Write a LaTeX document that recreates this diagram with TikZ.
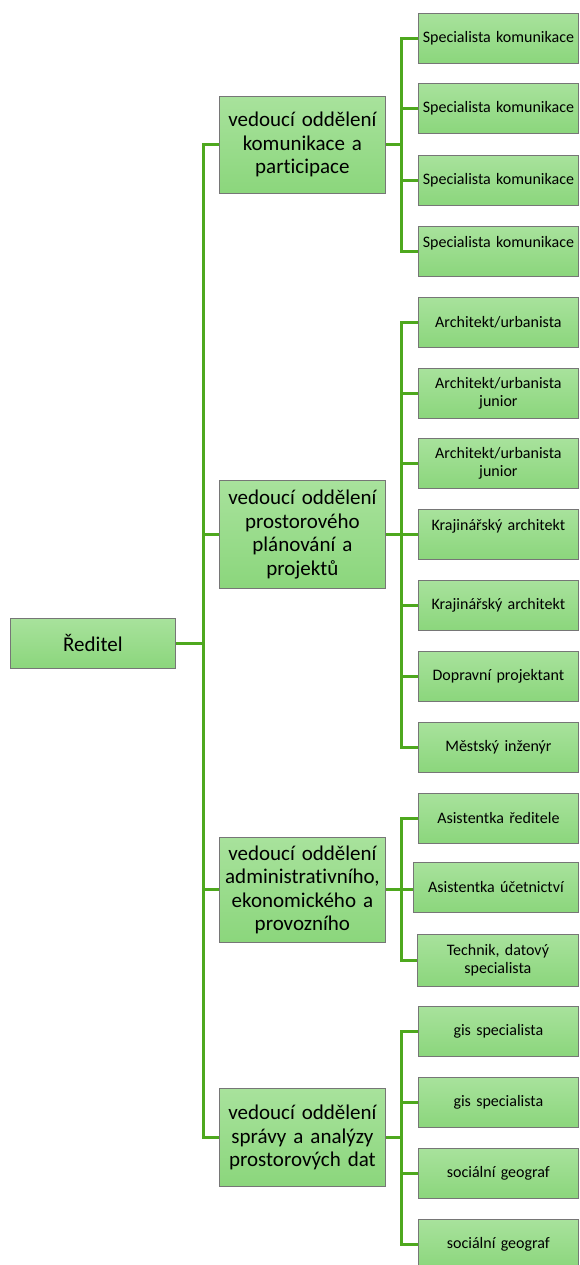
\documentclass[tikz,border=0pt]{standalone}
\usepackage{fontspec}
\setmainfont{Carlito}[Ligatures={NoCommon}]
\definecolor{lineg}{RGB}{78,168,30}
\definecolor{boxtop}{RGB}{168,226,156}
\definecolor{boxbot}{RGB}{139,214,124}
\definecolor{boxedge}{RGB}{118,118,118}
\begin{document}
\begin{tikzpicture}[x=1pt,y=-1pt,
  box/.style={draw=boxedge, line width=0.8pt, top color=boxtop, bottom color=boxbot,
    inner sep=2pt, align=center, anchor=north west},
  leaf/.style={box, minimum width=160pt, minimum height=50pt, text width=154pt,
    font=\fontsize{16}{18}\selectfont},
  mgr/.style={box, minimum width=166pt, text width=160pt,
    font=\fontsize{21}{23.5}\selectfont},
  conn/.style={draw=lineg, line width=3pt}]
\useasboundingbox (0,0) rectangle (579,1265);
\fill[white] (0,0) rectangle (579,1265);
\coordinate (trunk) at (203,0);
\coordinate (bus) at (401.5,0);

% director
\node[box, minimum width=165pt, minimum height=50pt, text width=160pt,
  font=\fontsize{21}{23.5}\selectfont] (dir) at (10,618) {Ředitel};

% managers
\node[mgr, minimum height=97pt] (m1) at (219,96) {vedoucí oddělení\\komunikace a\\participace};
\node[mgr, minimum height=108pt] (m2) at (219,480) {vedoucí oddělení\\prostorového\\plánování a\\projektů};
\node[mgr, minimum height=105pt] (m3) at (219,837) {vedoucí oddělení\\administrativního,\\ekonomického a\\provozního};
\node[mgr, minimum height=98pt] (m4) at (219,1088) {vedoucí oddělení\\správy a analýzy\\prostorových dat};

% leaves of m1
\node[leaf] (l11) at (418,13) {Specialista komunikace};
\node[leaf] (l12) at (418,83) {Specialista komunikace};
\node[leaf] (l13) at (418,155) {Specialista komunikace};
\node[leaf] (l14) at (418,226) {Specialista komunikace\\[1pt]\mbox{}};

% leaves of m2
\node[leaf] (l21) at (418,297) {Architekt/urbanista};
\node[leaf] (l22) at (418,368) {Architekt/urbanista\\junior};
\node[leaf] (l23) at (418,438) {Architekt/urbanista\\junior};
\node[leaf] (l24) at (418,509) {Krajinářský architekt\\[1pt]\mbox{}};
\node[leaf] (l25) at (418,580) {Krajinářský architekt};
\node[leaf] (l26) at (418,651) {Dopravní projektant};
\node[leaf] (l27) at (418,722) {Městský inženýr};

% leaves of m3
\node[leaf] (l31) at (418,793) {Asistentka ředitele};
\node[leaf, minimum width=165pt] (l32) at (413,862) {Asistentka účetnictví};
\node[leaf, minimum width=161pt, minimum height=52pt] (l33) at (417,934) {Technik, datový\\specialista};

% leaves of m4
\node[leaf] (l41) at (418,1006) {gis specialista};
\node[leaf] (l42) at (418,1077) {gis specialista};
\node[leaf] (l43) at (418,1148) {sociální geograf};
\node[leaf] (l44) at (418,1219) {sociální geograf};

% trunk
\draw[conn] (dir.east) -- (dir.east -| trunk);
\draw[conn] (m1.west) -- (m1.west -| trunk) -- (m4.west -| trunk) -- (m4.west);
\draw[conn] (m2.west) -- (m2.west -| trunk);
\draw[conn] (m3.west) -- (m3.west -| trunk);

% branch m1
\draw[conn] (l11.west) -- (l11.west -| bus) -- (l14.west -| bus) -- (l14.west);
\draw[conn] (m1.east) -- (m1.east -| bus);
\draw[conn] (l12.west) -- (l12.west -| bus);
\draw[conn] (l13.west) -- (l13.west -| bus);

% branch m2
\draw[conn] (l21.west) -- (l21.west -| bus) -- (l27.west -| bus) -- (l27.west);
\draw[conn] (m2.east) -- (m2.east -| bus);
\draw[conn] (l22.west) -- (l22.west -| bus);
\draw[conn] (l23.west) -- (l23.west -| bus);
\draw[conn] (l24.west) -- (l24.west -| bus);
\draw[conn] (l25.west) -- (l25.west -| bus);
\draw[conn] (l26.west) -- (l26.west -| bus);

% branch m3
\draw[conn] (l31.west) -- (l31.west -| bus) -- (l33.west -| bus) -- (l33.west);
\draw[conn] (m3.east) -- (m3.east -| l32.west);

% branch m4
\draw[conn] (l41.west) -- (l41.west -| bus) -- (l44.west -| bus) -- (l44.west);
\draw[conn] (m4.east) -- (m4.east -| bus);
\draw[conn] (l42.west) -- (l42.west -| bus);
\draw[conn] (l43.west) -- (l43.west -| bus);
\end{tikzpicture}
\end{document}
